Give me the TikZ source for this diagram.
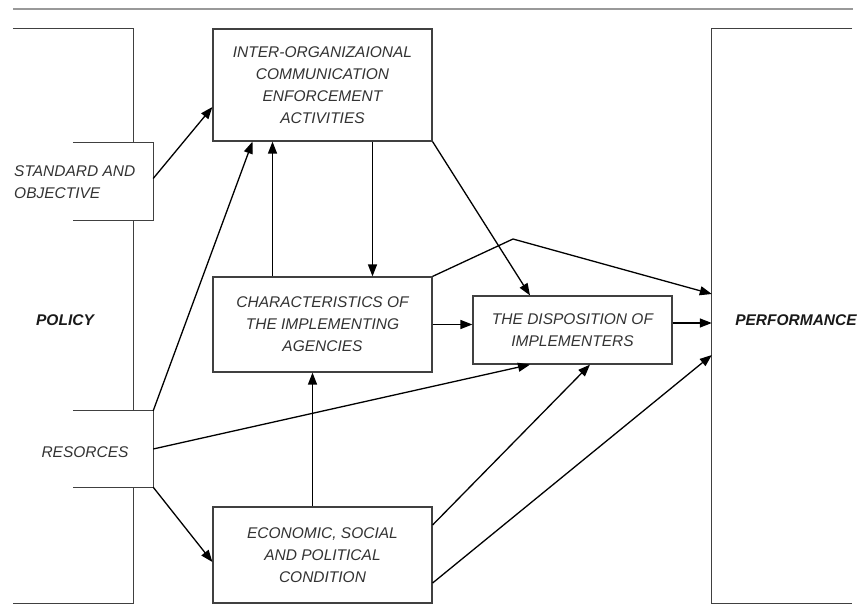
\documentclass[tikz,border=0pt]{standalone}
\usepackage{fontspec}
\setmainfont{Liberation Sans}
\usepackage{tikz}
\usetikzlibrary{arrows.meta, positioning}
\tikzset{
>={Triangle[length=12pt,width=9pt]}, % filled arrow heads
every node/.style={font=\itshape\fontsize{15.5}{22}\selectfont, text=black!80, align=center, inner sep=0pt},
block/.style={draw=black!75, line width=1.2pt, fill=white}, % the closed boxes
open/.style={fill=white, minimum width=80pt}, % boxes sitting on the policy frame
frame/.style={draw=black!75, line width=1.2pt},
title/.style={font=\bfseries\itshape\fontsize{15.5}{18}\selectfont, text=black!90},
link/.style={->, line width=1.3pt}, % the arrows
}

\begin{document}
\begin{tikzpicture}[x=1pt, y=-1pt]
    \useasboundingbox (0,0) rectangle (863,615);
    \draw[black!40, line width=2pt] (13,9) -- (853,9);

    % the two big frames
    \node[minimum width=120pt, minimum height=574pt] (policy) at (73,316) {};
    \node[minimum width=140pt, minimum height=574pt] (perf) at (782,316) {};
    \draw[frame] (policy.north west) -- (policy.north east) -- (policy.south east) -- (policy.south west);
    \draw[frame] (perf.north east) -- (perf.north west) -- (perf.south west) -- (perf.south east);
    \node[title] (policylbl) at (65,320) {POLICY};
    \node[title] (perflbl) at (796,320) {PERFORMANCE};

    \node[open, minimum height=77pt] (std) at (113,181.5) {};
    \node[open, minimum height=76pt] (res) at (113,449) {};
    \draw[frame] (std.north west) -- (std.north east) -- (std.south east) -- (std.south west);
    \draw[frame] (res.north west) -- (res.north east) -- (res.south east) -- (res.south west);
    \node[anchor=west, align=left] (stdtxt) at (14,182) {STANDARD AND\\OBJECTIVE};
    \node (restxt) at (85,452) {RESORCES};

    \node[block, minimum width=219pt, minimum height=112pt] (inter) at (322.5,85)
        {INTER-ORGANIZAIONAL\\COMMUNICATION\\ENFORCEMENT\\ACTIVITIES};
    \node[block, minimum width=219pt, minimum height=95pt] (char) at (322.5,324.5)
        {CHARACTERISTICS OF\\THE IMPLEMENTING\\AGENCIES};
    \node[block, minimum width=199pt, minimum height=68pt] (disp) at (572.5,330)
        {THE DISPOSITION OF\\IMPLEMENTERS};
    \node[block, minimum width=219pt, minimum height=96pt] (econ) at (322.5,555)
        {ECONOMIC, SOCIAL\\AND POLITICAL\\CONDITION};
    \coordinate (bend) at (513,239);

    \draw[link] ([yshift=3pt]std.east) -- ([yshift=-22pt]inter.west);
    \draw[link] (res.north east) -- ([xshift=-70pt]inter.south);
    \draw[link] ([xshift=-50pt]char.north) -- ([xshift=-50pt]inter.south);
    \draw[link] ([xshift=50pt]inter.south) -- ([xshift=50pt]char.north);
    \draw[link] (inter.south east) -- ([xshift=-42.5pt]disp.north);
    \draw[link] (char.north east) -- (bend) -- ([yshift=22pt]perf.west);
    \draw[link] (char.east) -- (char.east -| disp.west);
    \draw[link] ([yshift=7pt]disp.east) -- ([yshift=7pt]disp.east -| perf.west);
    \draw[link] (res.east) -- ([xshift=-42.5pt]disp.south);
    \draw[link] (res.south east) -- ([yshift=-7pt]econ.west);
    \draw[link] ([xshift=-10pt]econ.north) -- ([xshift=-10pt]char.south);
    \draw[link] ([yshift=30pt]econ.east) -- ([xshift=17.5pt]disp.south);
    \draw[link] ([yshift=-28pt]econ.east) -- ([yshift=-39pt]perf.west);
\end{tikzpicture}
\end{document}
